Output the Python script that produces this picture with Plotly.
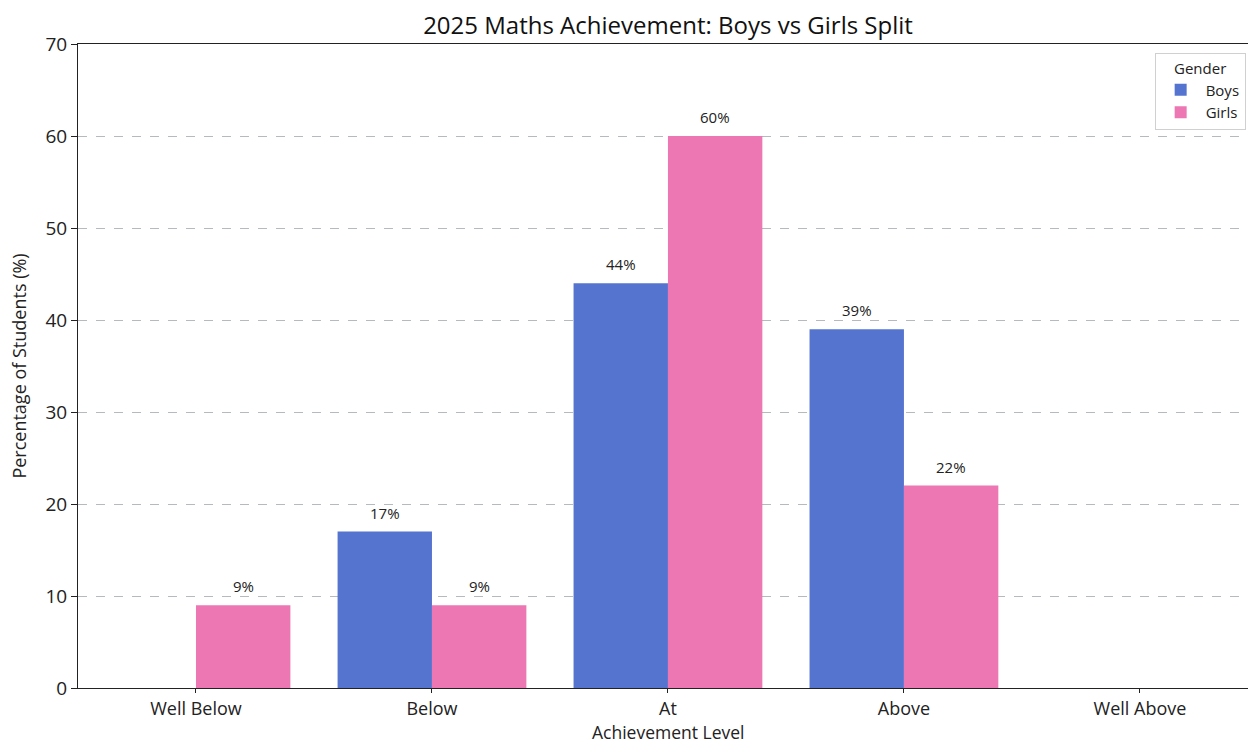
import plotly.graph_objects as go

levels = ["Well Below", "Below", "At", "Above", "Well Above"]
boys = [0, 17, 44, 39, 0]
girls = [9, 9, 60, 22, 0]
y_ticks = [0, 10, 20, 30, 40, 50, 60, 70]

BOYS_COLOR = "#5574D0"
GIRLS_COLOR = "#EC77B3"
FONT = "Open Sans"

fig = go.Figure()
fig.add_trace(go.Bar(name="Boys", x=list(range(len(levels))), y=boys,
                     marker=dict(color=BOYS_COLOR, line=dict(width=0))))
fig.add_trace(go.Bar(name="Girls", x=list(range(len(levels))), y=girls,
                     marker=dict(color=GIRLS_COLOR, line=dict(width=0))))

# value labels above every non-zero bar
for offset, values in ((-0.2, boys), (0.2, girls)):
    for i, v in enumerate(values):
        if v > 0:
            fig.add_annotation(x=i + offset, y=v, text=f"{v}%", showarrow=False,
                               yanchor="bottom", yshift=7,
                               font=dict(family=FONT, size=15, color="#222"))

# x-axis title placed just under the tick labels
fig.add_annotation(x=2, xref="x", y=0, yref="paper", yanchor="top", yshift=-31,
                   text="Achievement Level", showarrow=False, borderpad=0,
                   font=dict(family=FONT, size=17.5, color="#222"))

fig.update_layout(
    width=1248, height=745,
    margin=dict(l=78, r=0, t=44, b=57),
    paper_bgcolor="white", plot_bgcolor="white",
    barmode="group", bargap=0.2, bargroupgap=0,
    font=dict(family=FONT, color="#222"),
    title=dict(text="2025 Maths Achievement: Boys vs Girls Split",
               x=668 / 1248, xanchor="center", y=0.966, yanchor="middle",
               font=dict(family=FONT, size=24, color="#111")),
    legend=dict(title=dict(text="Gender", side="top center",
                           font=dict(family=FONT, size=15)),
                x=0.998, xanchor="right", y=0.986, yanchor="top",
                bgcolor="white", bordercolor="#d0d0d0", borderwidth=1,
                itemwidth=40,
                font=dict(family=FONT, size=15)),
    showlegend=True,
)

fig.update_xaxes(
    range=[-0.5, 4.458],
    tickmode="array", tickvals=list(range(len(levels))), ticktext=levels,
    ticks="outside", ticklen=4, tickcolor="#222",
    showline=True, linecolor="#222", linewidth=1, mirror=True,
    showgrid=False, zeroline=False,
    tickfont=dict(family=FONT, size=18, color="#222"),
)
fig.update_yaxes(
    range=[0, 70], tickmode="array", tickvals=y_ticks,
    ticks="outside", ticklen=6, tickcolor="#222",
    showline=True, linecolor="#222", linewidth=1,
    showgrid=True, gridcolor="#b4babd", griddash="dash", gridwidth=1,
    zeroline=False,
    tickfont=dict(family=FONT, size=19, color="#222"),
    title=dict(text="Percentage of Students (%)", standoff=14,
               font=dict(family=FONT, size=18, color="#222")),
)

fig.write_html("out.html")
